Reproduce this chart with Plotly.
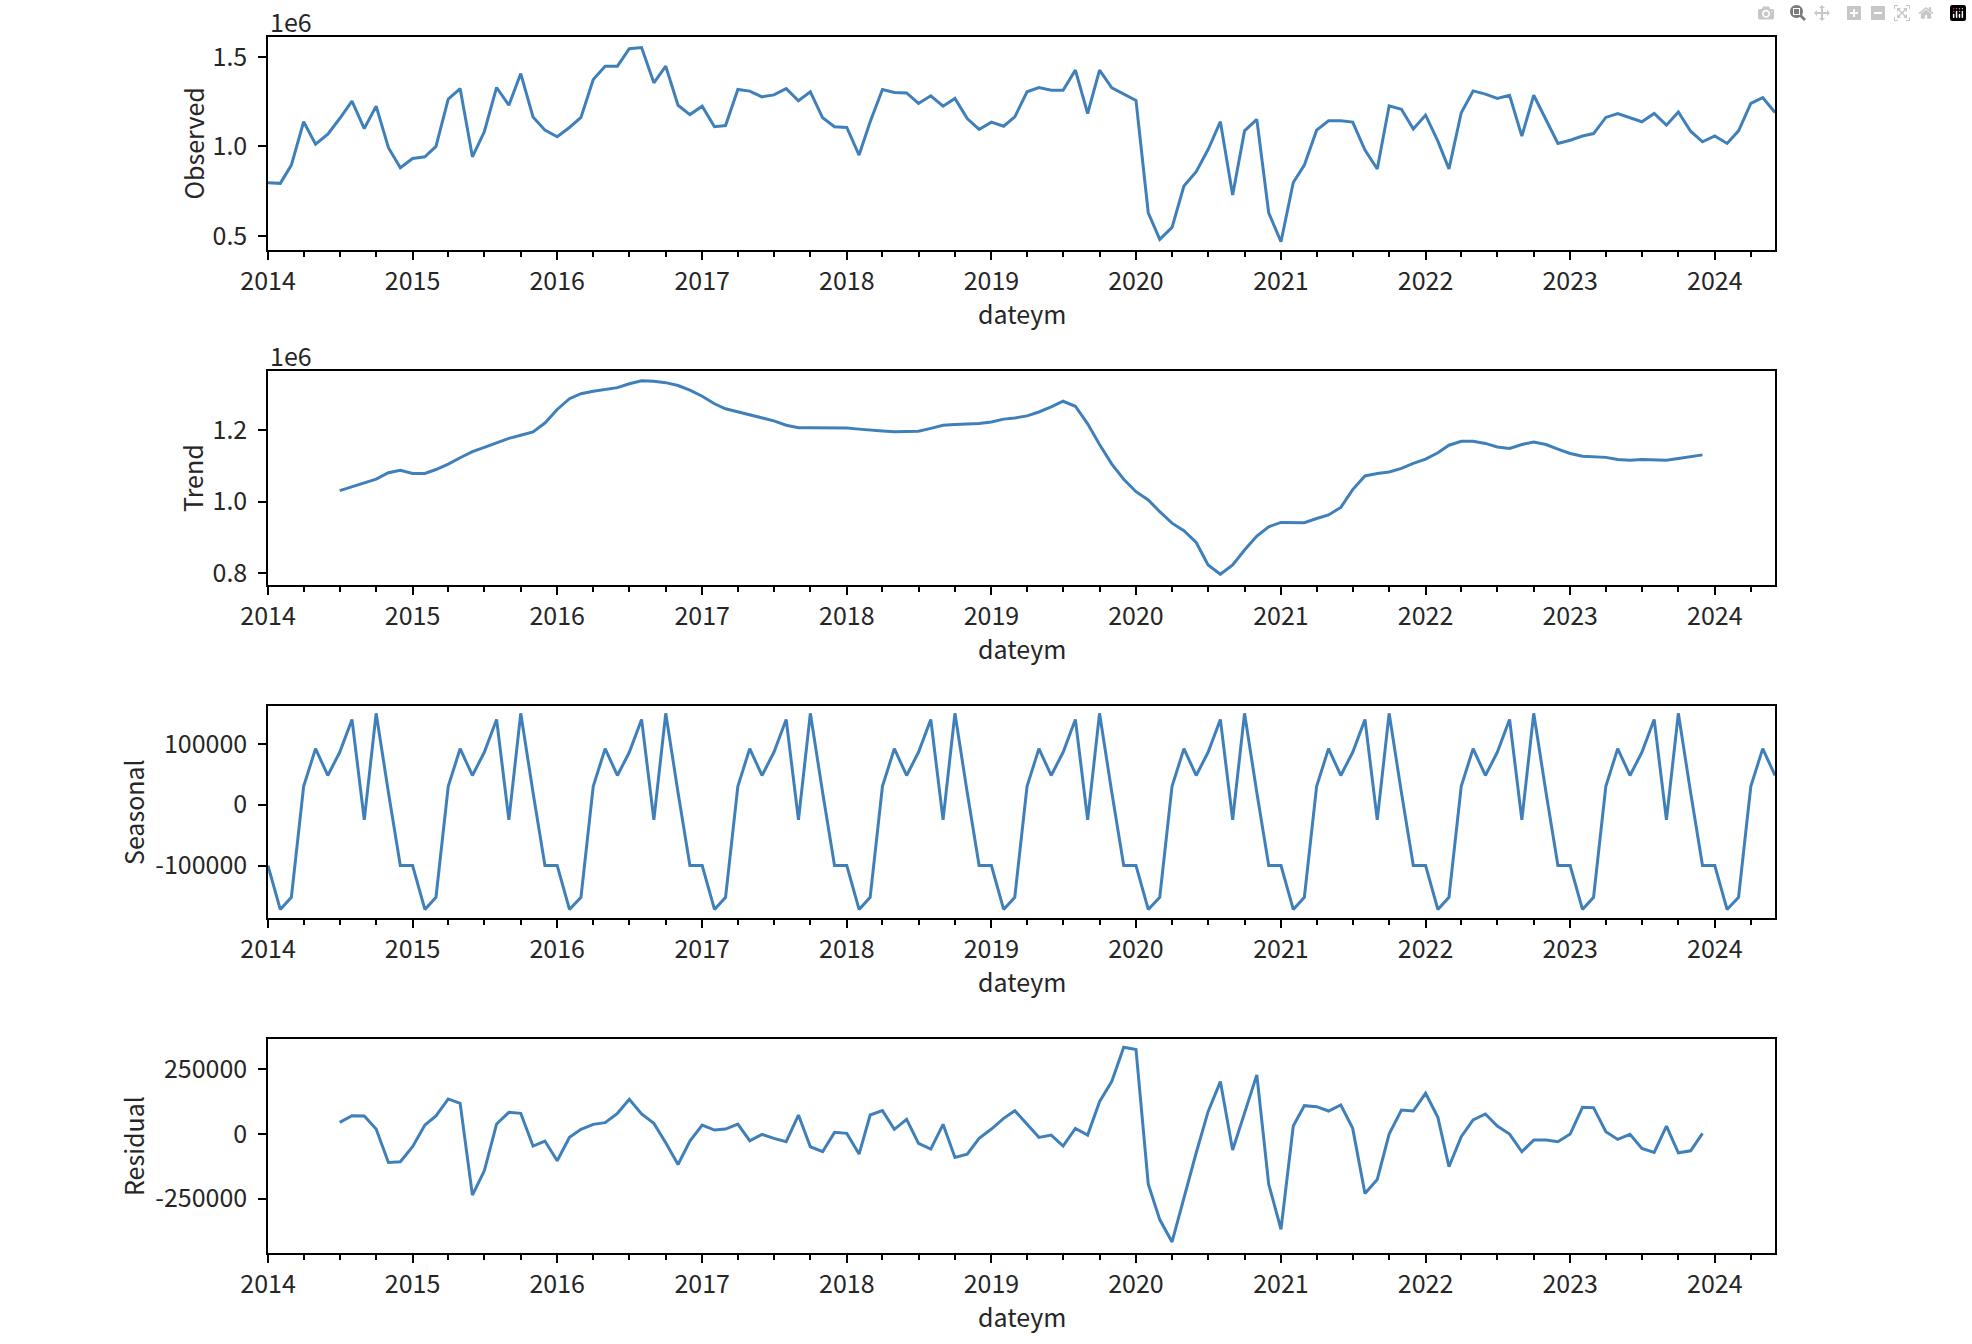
import plotly.graph_objects as go
import pandas as pd

# ---------------- data ----------------
dates = pd.date_range("2014-01-01", periods=126, freq="MS")

observed = [
    797000, 794000, 896000, 1138000, 1013000, 1069000, 1156000, 1253000, 1100000, 1225000, 993000, 881000,
    933000, 942000, 1000000, 1264000, 1323000, 942000, 1082000, 1329000, 1230000, 1407000, 1165000, 1091000,
    1054000, 1106000, 1162000, 1374000, 1448000, 1448000, 1546000, 1552000, 1355000, 1448000, 1230000, 1178000,
    1225000, 1110000, 1117000, 1318000, 1309000, 1277000, 1288000, 1323000, 1255000, 1305000, 1160000, 1110000,
    1106000, 952000, 1138000, 1318000, 1301000, 1299000, 1240000, 1283000, 1225000, 1268000, 1156000, 1095000,
    1136000, 1113000, 1165000, 1305000, 1329000, 1314000, 1314000, 1426000, 1184000, 1426000, 1327000, 1292000,
    1257000, 630000, 481000, 548000, 779000, 859000, 983000, 1138000, 729000, 1087000, 1151000, 630000,
    468000, 799000, 896000, 1091000, 1143000, 1143000, 1136000, 980000, 874000, 1227000, 1208000, 1097000,
    1175000, 1030000, 875000, 1188000, 1310000, 1292000, 1268000, 1286000, 1058000, 1286000, 1151000, 1017000,
    1035000, 1058000, 1072000, 1162000, 1184000, 1162000, 1138000, 1184000, 1119000, 1193000, 1085000, 1026000,
    1059000, 1017000, 1087000, 1240000, 1273000, 1190000,
]

# trend and residual exist from 2014-07 to 2023-12
trend = [
    1031000, 1042000, 1053000, 1063000, 1081000, 1088000,
    1079000, 1079000, 1090000, 1105000, 1123000, 1140000, 1152000, 1165000, 1177000, 1186000, 1195000, 1220000,
    1258000, 1288000, 1302000, 1309000, 1313000, 1319000, 1330000, 1338000, 1337000, 1333000, 1325000, 1312000,
    1295000, 1274000, 1260000, 1251000, 1242000, 1235000, 1226000, 1214000, 1207000, 1207000, 1207000, 1207000,
    1206000, 1203000, 1200000, 1198000, 1196000, 1196000, 1197000, 1205000, 1214000, 1216000, 1217000, 1219000,
    1223000, 1231000, 1234000, 1240000, 1251000, 1265000, 1281000, 1267000, 1218000, 1160000, 1105000, 1063000,
    1028000, 1005000, 972000, 940000, 919000, 886000, 823000, 797000, 823000, 865000, 904000, 930000,
    942000, 941000, 941000, 953000, 963000, 984000, 1034000, 1072000, 1079000, 1083000, 1093000, 1107000,
    1119000, 1137000, 1158000, 1169000, 1169000, 1163000, 1153000, 1149000, 1160000, 1167000, 1160000, 1147000,
    1135000, 1127000, 1126000, 1124000, 1118000, 1116000, 1118000, 1118000, 1116000, 1121000, 1127000, 1131000,
]

seasonal = [
    -100000, -172000, -152000, 30000, 92000, 48000, 86000, 140000, -25000, 150000, 20000, -100000,
    -100000, -172000, -152000, 30000, 92000, 48000, 86000, 140000, -25000, 150000, 20000, -100000,
    -100000, -172000, -152000, 30000, 92000, 48000, 86000, 140000, -25000, 150000, 20000, -100000,
    -100000, -172000, -152000, 30000, 92000, 48000, 86000, 140000, -25000, 150000, 20000, -100000,
    -100000, -172000, -152000, 30000, 92000, 48000, 86000, 140000, -25000, 150000, 20000, -100000,
    -100000, -172000, -152000, 30000, 92000, 48000, 86000, 140000, -25000, 150000, 20000, -100000,
    -100000, -172000, -152000, 30000, 92000, 48000, 86000, 140000, -25000, 150000, 20000, -100000,
    -100000, -172000, -152000, 30000, 92000, 48000, 86000, 140000, -25000, 150000, 20000, -100000,
    -100000, -172000, -152000, 30000, 92000, 48000, 86000, 140000, -25000, 150000, 20000, -100000,
    -100000, -172000, -152000, 30000, 92000, 48000, 86000, 140000, -25000, 150000, 20000, -100000,
    -100000, -172000, -152000, 30000, 92000, 48000,
]

residual = [
    45200, 71000, 69800, 19400, -109800, -107200,
    -49100, 34900, 69800, 135700, 118900, -236400, -142100, 38800, 84000, 80100, -46500, -27100,
    -103400, -12900, 18100, 37500, 43900, 80100, 134400, 77500, 41300, -33600, -117600, -27100,
    34900, 15500, 19400, 38800, -25800, -1300, -16800, -29700, 73600, -49100, -68500, 6500,
    2600, -77500, 73600, 90400, 18100, 56800, -36200, -58100, 37500, -90400, -77500, -16800,
    19400, 60700, 90400, 37500, -12900, -3900, -46500, 22000, -3900, 125300, 204000, 335900,
    327000, -193800, -330800, -417300, -242900, -72400, 86600, 202800, -62000, 80100, 228700, -193800,
    -368200, 31000, 109800, 105900, 89100, 112400, 22000, -230000, -175700, 0, 93000, 89100,
    157600, 64600, -126600, -10300, 54300, 77500, 31000, 0, -68500, -23300, -23300, -29700,
    0, 103400, 102100, 9000, -20700, -1300, -55600, -71100, 31000, -72400, -64600, 2600,
]

trend_dates = dates[6:120]

year_ticks = [f"{y}-01-01" for y in range(2014, 2025)]
year_labels = [str(y) for y in range(2014, 2025)]
quarter_ticks = [d for d in pd.date_range("2014-01-01", "2024-06-01", freq="QS")]

panel_names = ["Observed", "Trend", "Seasonal", "Residual"]
y_ranges = [[422000, 1611000], [767000, 1365600], [-186000, 162000], [-460000, 367500]]
y_tickvals = [[500000, 1000000, 1500000], [800000, 1000000, 1200000],
              [-100000, 0, 100000], [-250000, 0, 250000]]
y_ticktext = [["0.5", "1.0", "1.5"], ["0.8", "1.0", "1.2"],
              ["-100000", "0", "100000"], ["-250000", "0", "250000"]]

# ---------------- layout geometry (px) ----------------
W, H = 1972, 1344
LEFT, RIGHT = 268, 1775
panels_px = [(37, 250), (371, 585), (706, 918), (1039, 1253)]
ylabel_x = [192, 192, 133, 133]

LINE = "#4080ba"
TXT = "#262626"
FONT = "Noto Sans CJK KR"
FS = 25

fig = go.Figure()
series = [(dates, observed), (trend_dates, trend), (dates, seasonal), (trend_dates, residual)]
for i, (xs, ys) in enumerate(series):
    fig.add_trace(go.Scatter(x=xs, y=ys, mode="lines", line=dict(color=LINE, width=3),
                             showlegend=False, xaxis=f"x{i+1}", yaxis=f"y{i+1}"))

layout = dict(template="none", width=W, height=H, margin=dict(l=0, r=0, t=0, b=0, pad=0),
              paper_bgcolor="white", plot_bgcolor="white",
              font=dict(family=FONT, size=FS, color=TXT), showlegend=False)

annotations = []
for i in range(4):
    top, bot = panels_px[i]
    ax = dict(
        type="date", range=["2014-01-01", "2024-06-01"], domain=[LEFT / W, RIGHT / W],
        anchor=f"y{i+1}", tickmode="array", tickvals=year_ticks, ticktext=year_labels,
        ticks="outside", ticklen=8, tickwidth=1.5, tickcolor="black", automargin=False,
        showline=True, linecolor="black", linewidth=1.5, mirror=True,
        showgrid=False, zeroline=False, tickfont=dict(family=FONT, size=FS, color=TXT),
        minor=dict(tickvals=quarter_ticks, ticks="outside", ticklen=5, tickwidth=1.5,
                   tickcolor="black", showgrid=False),
    )
    ay = dict(
        range=y_ranges[i], domain=[1 - bot / H, 1 - top / H], anchor=f"x{i+1}",
        tickmode="array", tickvals=y_tickvals[i], ticktext=y_ticktext[i],
        ticks="outside", ticklen=8, tickwidth=1.5, tickcolor="black", automargin=False,
        showline=True, linecolor="black", linewidth=1.5, mirror=True,
        showgrid=False, zeroline=False, tickfont=dict(family=FONT, size=FS, color=TXT),
        ticklabelstandoff=6,
    )
    layout[f"xaxis{i+1}" if i else "xaxis"] = ax
    layout[f"yaxis{i+1}" if i else "yaxis"] = ay
    # y label
    annotations.append(dict(text=panel_names[i], textangle=-90, x=ylabel_x[i] / W,
                            y=1 - (top + bot) / 2 / H, xref="paper", yref="paper",
                            xanchor="center", yanchor="middle", showarrow=False,
                            font=dict(family=FONT, size=FS, color=TXT)))
    # x label
    annotations.append(dict(text="dateym", x=(LEFT + RIGHT) / 2 / W, y=1 - (bot + 63) / H,
                            xref="paper", yref="paper", xanchor="center", yanchor="middle",
                            showarrow=False, font=dict(family=FONT, size=FS, color=TXT)))
    if i < 2:
        annotations.append(dict(text="1e6", x=LEFT / W, y=1 - (top - 16) / H,
                                xref="paper", yref="paper", xanchor="left", yanchor="middle",
                                showarrow=False, font=dict(family=FONT, size=FS, color=TXT)))

layout["annotations"] = annotations
fig.update_layout(**layout)

fig.write_html("out.html", post_script="document.body.style.margin='0';")
